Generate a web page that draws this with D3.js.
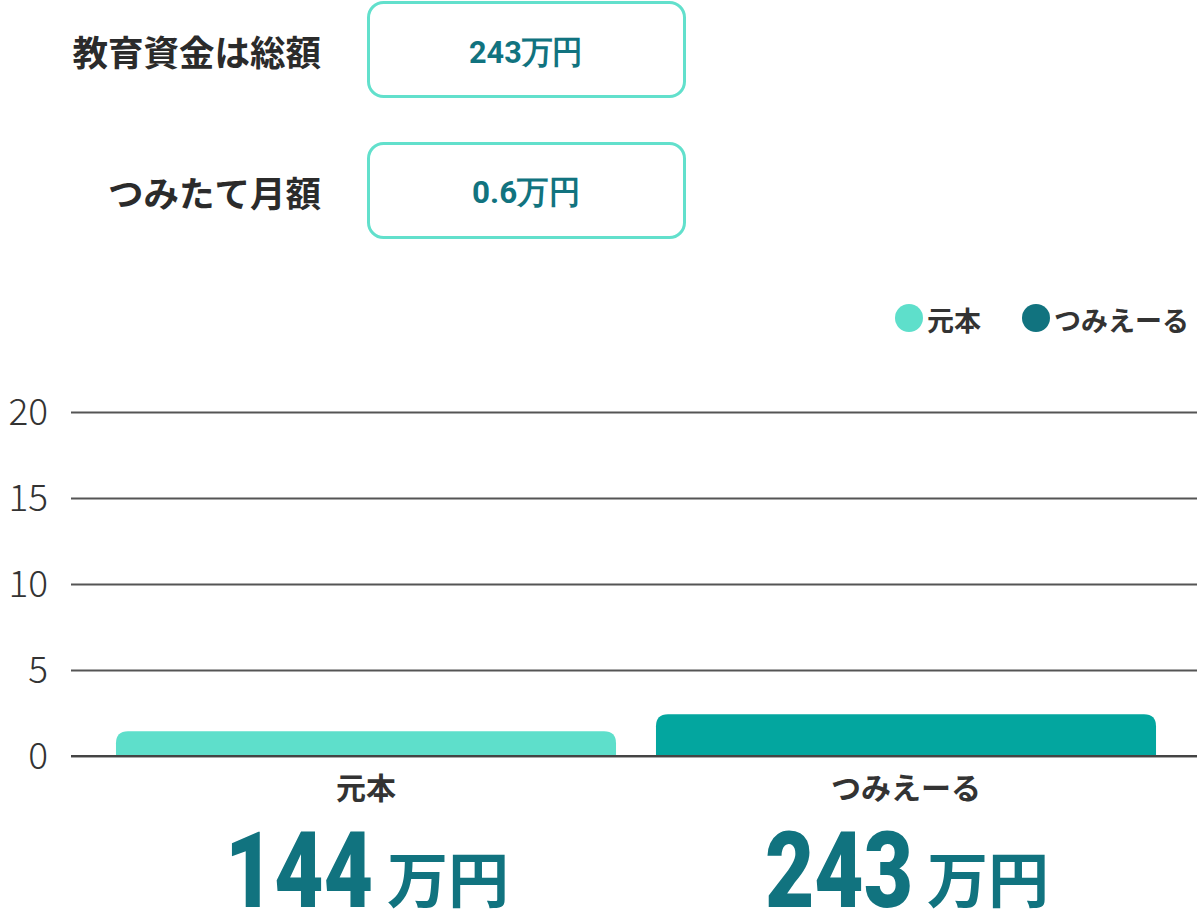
<!DOCTYPE html>
<html><head><meta charset="utf-8">
<script src="https://cdn.jsdelivr.net/npm/d3@7"></script>
<style>
html,body{margin:0;padding:0;background:#fff;}
svg{display:block;}
</style>
</head><body>
<div id="chart"></div>
<script>
// ---- data ----
const inputLabels = ["教育資金は総額", "つみたて月額"];
const inputValues = ["243万円", "0.6万円"];
const categories = ["元本", "つみえーる"];
const values = [1.44, 2.43];            // 百万円
const totals = ["144", "243"];          // 万円
const unitText = "万円";
const yTicks = [0, 5, 10, 15, 20];
const barColors = ["#5EDFCB", "#03A69F"];
const legendColors = ["#5EDFCB", "#11737F"];

const W = 1197, H = 921;
const svg = d3.select("#chart").append("svg").attr("width", W).attr("height", H);
const CJK = "'Noto Sans CJK JP','Noto Sans',sans-serif";
const NUM = "Roboto,'Noto Sans',sans-serif";

// ---- top input rows ----
const rowY = d3.scaleBand().domain(d3.range(inputLabels.length)).range([1, 239]).paddingInner(0.312);
const rows = svg.selectAll("g.row").data(inputLabels).join("g").attr("class","row")
  .attr("transform", (d,i) => `translate(0,${rowY(i)})`);
rows.append("text").attr("x", 321).attr("y", rowY.bandwidth()/2 + 1)
  .attr("text-anchor","end").attr("dominant-baseline","central")
  .attr("font-family", CJK).attr("font-weight",700).attr("font-size",35.5).attr("fill","#2b2b2b")
  .text(d => d);
rows.append("rect").attr("x", 368.5).attr("y", 1.5).attr("width", 316).attr("height", rowY.bandwidth()-3)
  .attr("rx", 15).attr("fill","#fff").attr("stroke","#62E0CC").attr("stroke-width",3);
rows.append("text").attr("x", 526).attr("y", rowY.bandwidth()/2 + 2)
  .attr("text-anchor","middle").attr("dominant-baseline","central")
  .attr("font-family", NUM).attr("font-weight",700).attr("font-size",32).attr("fill","#11737F")
  .attr("textLength", (d,i) => i===0 ? 114 : 108).attr("lengthAdjust","spacingAndGlyphs")
  .text((d,i) => inputValues[i]);

// ---- legend ----
const legendX = [909, 1036];
const lg = svg.selectAll("g.lg").data(categories).join("g").attr("class","lg")
  .attr("transform", (d,i) => `translate(${legendX[i]},318)`);
lg.append("circle").attr("r", 14).attr("fill", (d,i) => legendColors[i]);
lg.append("text").attr("x", 18).attr("y", 1).attr("dominant-baseline","central")
  .attr("font-family", CJK).attr("font-weight",700).attr("font-size",27).attr("fill","#333")
  .text(d => d);

// ---- scales ----
const y = d3.scaleLinear().domain([0, 20]).range([756, 412]);
const x = d3.scaleBand().domain(categories).range([96, 1176]).paddingInner(0.074).paddingOuter(0.037);

// gridlines + tick labels
const yAxis = d3.axisLeft(y).tickValues(yTicks).tickSize(-(1197-71)).tickPadding(23);
const ga = svg.append("g").attr("transform","translate(71,0)").call(yAxis);
ga.select(".domain").remove();
ga.selectAll(".tick line").attr("stroke","#555").attr("stroke-width",2);
ga.selectAll(".tick text").attr("font-family", CJK).attr("font-weight",300).attr("font-size",37)
  .attr("fill","#333").attr("dy","0.33em");

// bars with rounded top corners
const r = 12;
function barPath(x0, w, yTop, yBase) {
  const rr = Math.min(r, (yBase - yTop), w/2);
  return `M${x0},${yBase}V${yTop+rr}Q${x0},${yTop} ${x0+rr},${yTop}H${x0+w-rr}Q${x0+w},${yTop} ${x0+w},${yTop+rr}V${yBase}Z`;
}
svg.append("g").selectAll("path").data(categories).join("path")
  .attr("d", (d,i) => barPath(x(d), x.bandwidth(), y(values[i]), y(0)))
  .attr("fill", (d,i) => barColors[i]);
// baseline redrawn on top
svg.append("line").attr("x1",71).attr("x2",1197).attr("y1",y(0)).attr("y2",y(0))
  .attr("stroke","#444").attr("stroke-width",2);

// category labels
svg.append("g").selectAll("text").data(categories).join("text")
  .attr("x", d => x(d) + x.bandwidth()/2).attr("y", 786)
  .attr("text-anchor","middle").attr("dominant-baseline","central")
  .attr("font-family", CJK).attr("font-weight",700).attr("font-size",30).attr("fill","#333")
  .text(d => d);

// big totals (digits condensed by a horizontal scale)
const digitW = 148;
const tg = svg.append("g").selectAll("g").data(categories).join("g")
  .attr("transform", d => `translate(${x(d) + x.bandwidth()/2 - 141},0)`);
const dg = tg.append("text").attr("x", 0).attr("y", 0)
  .attr("font-family", NUM).attr("font-weight",900).attr("font-size",106).attr("fill","#11737F")
  .text((d,i) => totals[i]);
dg.each(function() {
  const len = this.getComputedTextLength() || digitW;
  d3.select(this).attr("transform", `translate(0,907) scale(${digitW/len},1)`);
});
tg.append("text").attr("x", 162).attr("y", 903)
  .attr("font-family", CJK).attr("font-weight",700).attr("font-size",61).attr("fill","#11737F")
  .text(unitText);
</script>
</body></html>
